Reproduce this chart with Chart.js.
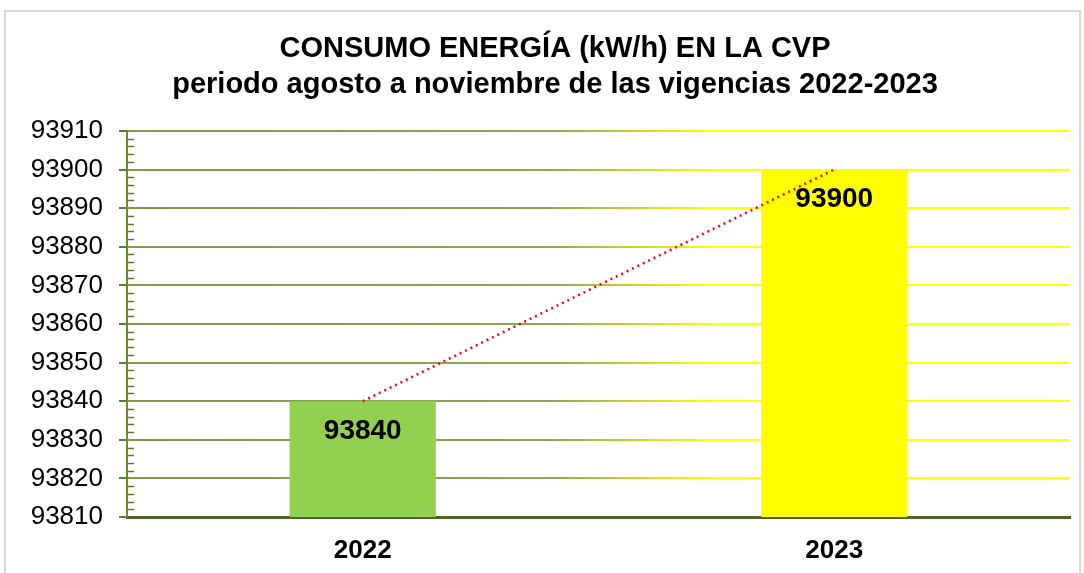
<!DOCTYPE html>
<html lang="es">
<head>
<meta charset="UTF-8"/>
<title>Consumo energía CVP</title>
<script src="https://cdn.jsdelivr.net/npm/chart.js@4.4.0/dist/chart.umd.min.js"></script>
<style>
  body { margin: 0; background: #fff; }
  #wrap { position: relative; width: 1084px; height: 573px; overflow: hidden; }
  #frame { position: absolute; left: 4px; top: 10px; width: 1073px; height: 600px; border: 2px solid #d9d9d9; }
  #chart { position: absolute; left: 0; top: 0; }
</style>
</head>
<body>
<div id="wrap">
  <div id="frame"></div>
  <canvas id="chart" width="1084" height="573"></canvas>
</div>
<script>
// datos
const years = ['2022', '2023'];
const consumo = [93840, 93900];
const barColors = ['#92D050', '#FFFF00'];
const titleLines = ['CONSUMO ENERGÍA (kW/h) EN LA CVP', 'periodo agosto a noviembre de las vigencias 2022-2023'];
const yMin = 93810, yMax = 93910, yStep = 10, yMinorStep = 2;

const FONT = '"Liberation Sans", Arial, sans-serif';

let gridGrad = null;
function gridColor(ctx) {
  const chart = ctx.chart;
  const a = chart.chartArea;
  if (!a) return '#7F9A48';
  if (!gridGrad) {
    gridGrad = chart.ctx.createLinearGradient(a.left, 0, a.right, 0);
    gridGrad.addColorStop(0, '#7F9A48');
    gridGrad.addColorStop(0.45, '#8DA852');
    gridGrad.addColorStop(0.62, '#FFFF00');
    gridGrad.addColorStop(1, '#FFFF00');
  }
  return gridGrad;
}

// marcas menores del eje y, titulo un poco a la derecha, etiquetas de las barras
const extras = {
  id: 'extras',
  afterLayout(chart) {
    if (chart.titleBlock) chart.titleBlock.left = 40;
  },
  beforeDatasetsDraw(chart) {
    const c = chart.ctx, y = chart.scales.y, x0 = chart.chartArea.left;
    c.save();
    c.strokeStyle = '#5E7A2E';
    c.lineWidth = 1.5;
    for (let v = yMin + yMinorStep; v < yMax; v += yMinorStep) {
      if ((v - yMin) % yStep === 0) continue;
      const py = Math.round(y.getPixelForValue(v)) + 0.5;
      c.beginPath();
      c.moveTo(x0, py);
      c.lineTo(x0 + 7, py);
      c.stroke();
    }
    c.restore();
  },
  afterDatasetsDraw(chart) {
    const c = chart.ctx;
    const meta = chart.getDatasetMeta(0);
    c.save();
    c.font = 'bold 28px ' + FONT;
    c.fillStyle = '#000';
    c.textAlign = 'center';
    c.textBaseline = 'middle';
    meta.data.forEach((bar, i) => {
      c.fillText(String(consumo[i]), bar.x, bar.y + 30);
    });
    c.restore();
  }
};

new Chart(document.getElementById('chart'), {
  data: {
    labels: years,
    datasets: [
      {
        type: 'bar',
        data: consumo,
        backgroundColor: barColors,
        barPercentage: 0.31,
        categoryPercentage: 1,
        order: 2
      },
      {
        type: 'line',
        data: consumo,
        borderColor: '#FF0000',
        borderWidth: 2.5,
        borderDash: [2, 4],
        pointRadius: 0,
        fill: false,
        order: 1
      }
    ]
  },
  options: {
    responsive: false,
    animation: false,
    layout: { padding: { left: 0, right: 14, top: 0, bottom: 0 } },
    plugins: {
      legend: { display: false },
      tooltip: { enabled: false },
      title: {
        display: true,
        text: titleLines,
        color: '#000',
        font: { family: FONT, size: 29, weight: 'bold', lineHeight: 1.24 },
        padding: { top: 31, bottom: 28 }
      }
    },
    scales: {
      x: {
        grid: { display: false, drawTicks: false },
        border: { display: true, color: '#4F6228', width: 3 },
        ticks: { color: '#000', padding: 18, font: { family: FONT, size: 26, weight: 'bold' } },
        afterFit(s) { s.height = 56; }
      },
      y: {
        min: yMin,
        max: yMax,
        grid: { color: gridColor, lineWidth: 2, tickLength: 8, tickColor: '#5E7A2E', tickWidth: 2 },
        border: { display: true, color: '#6B8A35', width: 2 },
        ticks: {
          stepSize: yStep,
          color: '#000',
          padding: 16,
          font: { family: FONT, size: 26 },
          callback: v => String(v)
        },
        afterFit(s) { s.width = 127; }
      }
    }
  },
  plugins: [extras]
});
</script>
</body>
</html>
